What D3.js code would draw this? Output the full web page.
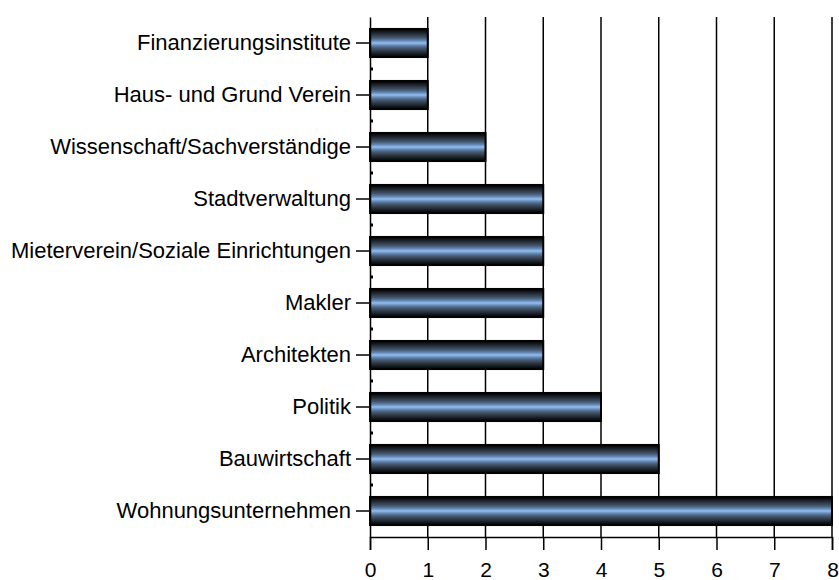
<!DOCTYPE html>
<html>
<head>
<meta charset="utf-8">
<script src="https://cdn.jsdelivr.net/npm/d3@7"></script>
<style>
  body { margin: 0; background: #fff; overflow: hidden; }
  text { font-family: "Liberation Sans", Arial, sans-serif; }
</style>
</head>
<body>
<div id="chart"></div>
<script>
// Chart data, top to bottom
const categories = [
  'Finanzierungsinstitute',
  'Haus- und Grund Verein',
  'Wissenschaft/Sachverständige',
  'Stadtverwaltung',
  'Mieterverein/Soziale Einrichtungen',
  'Makler',
  'Architekten',
  'Politik',
  'Bauwirtschaft',
  'Wohnungsunternehmen'
];
const values = [1, 1, 2, 3, 3, 3, 3, 4, 5, 8];
const xTicks = [0, 1, 2, 3, 4, 5, 6, 7, 8];

const W = 839, H = 580;
const margin = { top: 17, right: 7, bottom: 43, left: 370 };
const width = W - margin.left - margin.right;
const height = H - margin.top - margin.bottom;

const svg = d3.select('#chart').append('svg')
  .attr('width', W)
  .attr('height', H)
  .style('display', 'block');

// stepped metallic gradient
const defs = svg.append('defs');
const grad = defs.append('linearGradient')
  .attr('id', 'barGrad')
  .attr('x1', 0).attr('y1', 0).attr('x2', 0).attr('y2', 1);
[
  [0, '#000000'], [0.08, '#101418'], [0.2, '#2c3642'], [0.32, '#465a72'],
  [0.42, '#6689b4'], [0.5, '#93bff2'], [0.58, '#6689b4'], [0.68, '#465a72'],
  [0.8, '#2c3642'], [0.92, '#101418'], [1, '#000000']
].forEach(([o, c]) => grad.append('stop').attr('offset', o).attr('stop-color', c));

const g = svg.append('g').attr('transform', `translate(${margin.left},${margin.top})`);

const x = d3.scaleLinear().domain([0, 8]).range([0, width]);
const y = d3.scaleBand().domain(categories).range([0, height]).paddingInner(0.46).paddingOuter(0.23);
const yb = d3.scaleBand().domain(categories).range([0, height]);

// vertical grid lines
g.append('g')
  .selectAll('line')
  .data(xTicks.slice(1))
  .enter().append('line')
  .attr('x1', d => x(d)).attr('x2', d => x(d))
  .attr('y1', 0).attr('y2', height)
  .attr('stroke', '#000').attr('stroke-width', 1.5);

// bars
g.selectAll('.bar')
  .data(categories)
  .enter().append('rect')
  .attr('class', 'bar')
  .attr('x', 0)
  .attr('y', d => y(d))
  .attr('width', (d, i) => x(values[i]))
  .attr('height', y.bandwidth())
  .attr('fill', 'url(#barGrad)')
  .attr('stroke', '#000')
  .attr('stroke-width', 2);

// x axis
const xAxis = g.append('g')
  .attr('transform', `translate(0,${height})`)
  .call(d3.axisBottom(x).tickValues(xTicks).tickSize(13).tickPadding(12).tickFormat(d3.format('d')));
xAxis.select('.domain').attr('stroke-width', 1.5);
xAxis.selectAll('.tick line').attr('stroke-width', 1.5);
xAxis.selectAll('text').style('font-size', '21px').attr('fill', '#000');
// last label sits at the right edge, keep it inside
xAxis.selectAll('.tick text').filter(d => d === 8).attr('text-anchor', 'end').attr('dx', '0.3em');

// y axis
const yAxis = g.append('g')
  .call(d3.axisLeft(y).tickSize(14).tickPadding(5).tickSizeOuter(0));
yAxis.select('.domain').attr('stroke-width', 1.5);
yAxis.selectAll('.tick line').attr('stroke-width', 1.5);
yAxis.selectAll('text').style('font-size', '22px').attr('fill', '#000');

// small minor ticks at category boundaries
g.append('g')
  .selectAll('line')
  .data(categories.slice(1))
  .enter().append('line')
  .attr('x1', 0).attr('x2', 3)
  .attr('y1', d => yb(d)).attr('y2', d => yb(d))
  .attr('stroke', '#000').attr('stroke-width', 3);
</script>
</body>
</html>
